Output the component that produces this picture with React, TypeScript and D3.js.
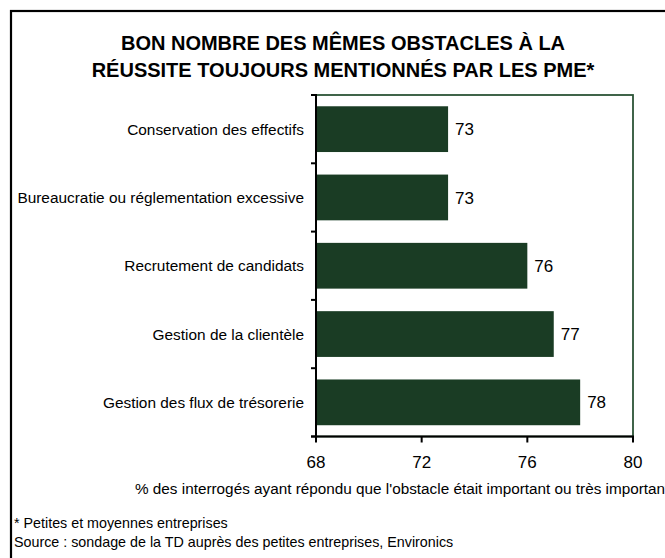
import React from "react";
import * as d3 from "d3";

const titleLines = ["BON NOMBRE DES MÊMES OBSTACLES À LA", "RÉUSSITE TOUJOURS MENTIONNÉS PAR LES PME*"];
const categories = [
  "Conservation des effectifs",
  "Bureaucratie ou réglementation excessive",
  "Recrutement de candidats",
  "Gestion de la clientèle",
  "Gestion des flux de trésorerie",
];
const values = [73, 73, 76, 77, 78];
const xTicks = [68, 72, 76, 80];
const xTitle = "% des interrogés ayant répondu que l'obstacle était important ou très important";
const footnotes = ["* Petites et moyennes entreprises", "Source : sondage de la TD auprès des petites entreprises, Environics"];

const W = 665;
const H = 558;
const plot = { left: 316, right: 633, top: 95, bottom: 436.5 };
const barColor = "#1a3c24";
const frameGreen = "#2c5437";
const font = "'Liberation Sans', Arial, sans-serif";

export default function App() {
  const x = d3.scaleLinear().domain([68, 80]).range([plot.left, plot.right]);
  const y = d3
    .scaleBand<string>()
    .domain(categories)
    .range([plot.top, plot.bottom])
    .paddingInner(0.33)
    .paddingOuter(0.165);
  const step = y.step();
  const boundaries = d3.range(categories.length + 1).map((i) => plot.top + i * step);

  return (
    <svg
      width={W}
      height={H}
      style={{ position: "absolute", left: 0, top: 0, background: "#fff" }}
      fontFamily={font}
    >
      <rect x={0} y={0} width={W} height={H} fill="#fff" />
      {/* outer frame, clipped on right & bottom */}
      <rect x={11} y={11} width={W + 20} height={H + 20} fill="none" stroke="#000" strokeWidth={2.2} />

      {/* title */}
      {titleLines.map((t, i) => (
        <text
          key={i}
          x={343}
          y={50 + i * 27}
          textAnchor="middle"
          fontWeight="bold"
          fontSize={20}
          fill="#000"
        >
          {t}
        </text>
      ))}

      {/* plot frame */}
      <rect
        x={plot.left}
        y={plot.top}
        width={plot.right - plot.left}
        height={plot.bottom - plot.top}
        fill="#fff"
        stroke={frameGreen}
        strokeWidth={1.8}
      />

      {/* bars */}
      {categories.map((c, i) => (
        <rect
          key={c}
          x={x(68)}
          y={y(c)!}
          width={x(values[i]) - x(68)}
          height={y.bandwidth()}
          fill={barColor}
        />
      ))}

      {/* value labels */}
      {categories.map((c, i) => (
        <text
          key={c}
          x={x(values[i]) + 7}
          y={y(c)! + y.bandwidth() / 2}
          dy="0.36em"
          fontSize={17}
          fill="#000"
        >
          {values[i]}
        </text>
      ))}

      {/* y axis */}
      <line x1={plot.left} x2={plot.left} y1={plot.top - 1} y2={plot.bottom + 1} stroke="#000" strokeWidth={2} />
      {boundaries.map((b, i) => (
        <line key={i} x1={plot.left - 5} x2={plot.left} y1={b} y2={b} stroke="#000" strokeWidth={2} />
      ))}
      {categories.map((c) => (
        <text
          key={c}
          x={304}
          y={y(c)! + y.bandwidth() / 2}
          dy="0.36em"
          textAnchor="end"
          fontSize={15.4}
          fill="#000"
        >
          {c}
        </text>
      ))}

      {/* x axis */}
      <line x1={plot.left - 5} x2={plot.right + 1} y1={plot.bottom} y2={plot.bottom} stroke="#000" strokeWidth={2} />
      {xTicks.map((t) => (
        <g key={t}>
          <line x1={x(t)} x2={x(t)} y1={plot.bottom} y2={plot.bottom + 6} stroke="#000" strokeWidth={2} />
          <text x={x(t)} y={468} textAnchor="middle" fontSize={17} fill="#000">
            {t}
          </text>
        </g>
      ))}
      <text x={135} y={494} fontSize={15.3} fill="#000">
        {xTitle}
      </text>

      {footnotes.map((f, i) => (
        <text key={i} x={14} y={528 + i * 19} fontSize={14.3} fill="#000">
          {f}
        </text>
      ))}
    </svg>
  );
}
